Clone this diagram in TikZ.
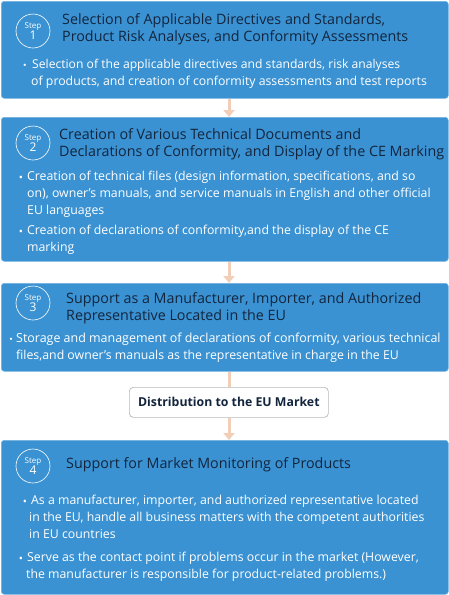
\documentclass[tikz,border=0pt]{standalone}
\usepackage{fontspec}
\setmainfont{Open Sans}
\newfontfamily\jpfont{Noto Sans CJK JP}
\usetikzlibrary{arrows.meta}
\definecolor{boxblue}{HTML}{3A92D3}
\definecolor{titlenavy}{HTML}{13253D}
\definecolor{peach}{HTML}{F2CDB8}
\definecolor{distborder}{HTML}{B8B8B8}
\tikzset{
  stepbox/.style={draw=boxblue!70!white, line width=0.6pt, fill=boxblue, rounded corners=3pt},
  stepcircle/.style={circle, draw=white, line width=0.6pt, minimum size=34pt, inner sep=0pt, text=white, align=center, font=\fontsize{8}{9}\selectfont},
  titletext/.style={anchor=west, text=titlenavy, align=left, inner sep=0pt, font=\fontsize{14.3}{16.5}\selectfont},
  bodytext/.style={anchor=north west, text=white, align=left, inner sep=0pt, font=\fontsize{12.3}{17}\selectfont},
  bulletmark/.style={anchor=base, text=white, inner sep=0pt, font=\fontsize{11}{12}\selectfont},
  jpmark/.style={anchor=base, text=white, inner sep=0pt, font=\jpfont\fontsize{11}{12}\selectfont},
  flow/.style={draw=peach, line width=3pt, -{Triangle[width=11pt,length=7pt]}},
  flowline/.style={draw=peach, line width=3pt},
  distbox/.style={draw=distborder, line width=0.7pt, fill=white, rounded corners=4pt, text=titlenavy, font=\bfseries\fontsize{12.3}{14}\selectfont}
}
\begin{document}
\begin{tikzpicture}[x=1pt,y=-1pt]
\useasboundingbox (0,0) rectangle (449,595);
% boxes
\node[stepbox, minimum width=447pt, minimum height=97pt, anchor=north west] (b1) at (1,1) {};
\node[stepbox, minimum width=447pt, minimum height=144pt, anchor=north west] (b2) at (1,117) {};
\node[stepbox, minimum width=447pt, minimum height=88pt, anchor=north west] (b3) at (1,283) {};
\node[distbox, minimum width=199pt, minimum height=30pt, anchor=north west] (d) at (129,387) {Distribution to the EU Market};
\node[stepbox, minimum width=447pt, minimum height=154pt, anchor=north west] (b4) at (1,440) {};
% connectors
\coordinate (ax) at (229,0);
\draw[flow] (b1.south -| ax) -- (b2.north -| ax);
\draw[flow] (b2.south -| ax) -- (b3.north -| ax);
\draw[flowline] (b3.south -| ax) -- (d.north -| ax);
\draw[flow] (d.south -| ax) -- (b4.north -| ax);
% step circles
\node[stepcircle] (c1) at (33,31) {Step\\[-1pt]{\fontsize{12}{12}\selectfont 1}};
\node[stepcircle] (c2) at (33,143) {Step\\[-1pt]{\fontsize{12}{12}\selectfont 2}};
\node[stepcircle] (c3) at (33,303) {Step\\[-1pt]{\fontsize{12}{12}\selectfont 3}};
\node[stepcircle] (c4) at (33,466) {Step\\[-1pt]{\fontsize{12}{12}\selectfont 4}};
% titles
\node[titletext] (t1) at (62,29) {Selection of Applicable Directives and Standards,\\Product Risk Analyses, and Conformity Assessments};
\node[titletext] (t2) at (59,144) {Creation of Various Technical Documents and\\Declarations of Conformity, and Display of the CE Marking};
\node[titletext] (t3) at (66,308) {Support as a Manufacturer, Importer, and Authorized\\Representative Located in the EU};
\node[titletext] (t4) at (66,465) {Support for Market Monitoring of Products};
% body step 1
\node[jpmark] (m1) at (25,69) {・};
\node[bodytext] (p1) at (31,59) {\fontsize{12.15}{17}\selectfont\hspace{1pt}Selection of the applicable directives and standards, risk analyses\\of products, and creation of conformity assessments and test reports};
% body step 2
\node[bulletmark] (m2a) at (21,181) {•};
\node[bodytext] (p2a) at (27,171) {Creation of technical files (design information, specifications, and so\\on), owner's manuals, and service manuals in English and other official\\EU languages};
\node[bulletmark] (m2b) at (21,235) {•};
\node[bodytext] (p2b) at (27,225) {Creation of declarations of conformity,and the display of the CE\\marking};
% body step 3
\node[jpmark] (m3) at (11,343) {・};
\node[bodytext] (p3) at (16,333) {\fontsize{12.45}{17}\selectfont Storage and management of declarations of conformity, various technical\\files,and owner's manuals as the representative in charge in the EU};
% body step 4
\node[bulletmark] (m4a) at (25,505) {•};
\node[bodytext] (p4a) at (29,495) {\hspace{2pt}As a manufacturer, importer, and authorized representative located\\in the EU, handle all business matters with the competent authorities\\in EU countries};
\node[bulletmark] (m4b) at (21,562) {•};
\node[bodytext] (p4b) at (26,552) {\hspace{1pt}Serve as the contact point if problems occur in the market (However,\\the manufacturer is responsible for product-related problems.)};
\end{tikzpicture}
\end{document}
